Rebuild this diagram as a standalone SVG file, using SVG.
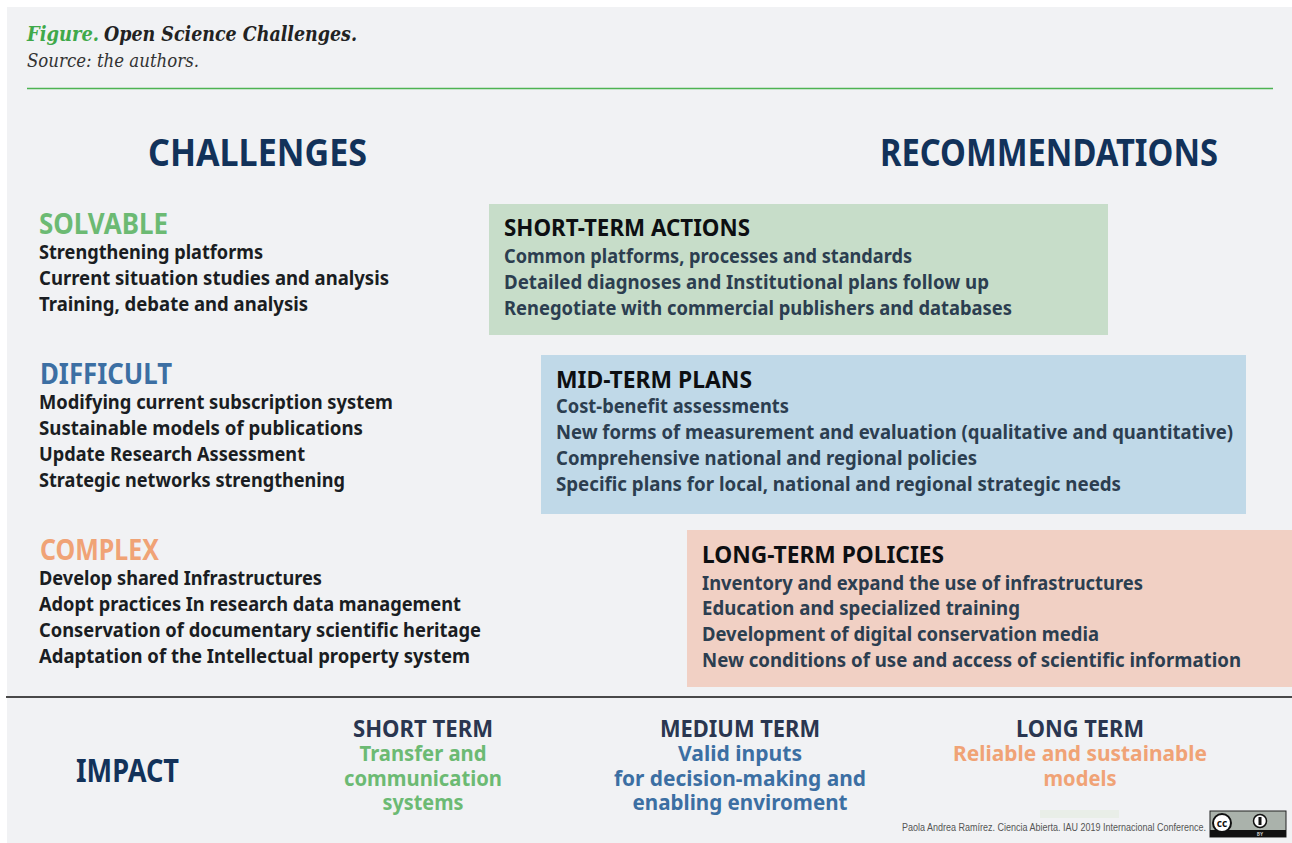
<svg xmlns="http://www.w3.org/2000/svg" width="1292" height="843" viewBox="0 0 1292 843">
<style>
text{font-family:"Noto Sans","Open Sans",sans-serif;font-weight:700}
.h{font-size:38px;fill:#12325a}
.c{font-size:28px}
.b{font-size:20px;fill:#1a1d22}
.s{font-size:20px;fill:#2c3e50}
.t{font-size:24px;fill:#0d0f12}
.m{text-anchor:middle}
.i{font-size:24px;fill:#2a3650}
.j{font-size:22px}
.g{fill:#6cba73}.bl{fill:#3c6fa3}.o{fill:#f0a376}
.f{font-family:"DejaVu Serif",serif;font-style:italic}
</style>
<rect x="0" y="0" width="1292" height="843" fill="#fff"/>
<rect x="7" y="7" width="1285" height="836" fill="#f1f2f4"/>
<g id="caption">
<text class="f" x="27" y="41" font-size="20" fill="#3fa94a" textLength="72" lengthAdjust="spacingAndGlyphs">Figure.</text>
<text class="f" x="104" y="41" font-size="20" fill="#222" textLength="253" lengthAdjust="spacingAndGlyphs">Open Science Challenges.</text>
<text class="f" x="27" y="67" font-size="18" fill="#333" style="font-weight:400" textLength="172" lengthAdjust="spacingAndGlyphs">Source: the authors.</text>
<line x1="27" y1="88.5" x2="1273" y2="88.5" stroke="#4db352" stroke-width="1.3"/>
</g>
<g id="headers">
<text class="h" x="148" y="166" textLength="219" lengthAdjust="spacingAndGlyphs">CHALLENGES</text>
<text class="h" x="880" y="166" textLength="338" lengthAdjust="spacingAndGlyphs">RECOMMENDATIONS</text>
</g>
<g id="solvable">
<text class="c g" x="39" y="234" textLength="129" lengthAdjust="spacingAndGlyphs">SOLVABLE</text>
<text class="b" x="39" y="259" textLength="224" lengthAdjust="spacingAndGlyphs">Strengthening platforms</text>
<text class="b" x="39" y="285" textLength="350" lengthAdjust="spacingAndGlyphs">Current situation studies and analysis</text>
<text class="b" x="39" y="311" textLength="269" lengthAdjust="spacingAndGlyphs">Training, debate and analysis</text>
</g>
<g id="difficult">
<text class="c bl" x="40" y="384" textLength="132" lengthAdjust="spacingAndGlyphs">DIFFICULT</text>
<text class="b" x="39" y="409" textLength="354" lengthAdjust="spacingAndGlyphs">Modifying current subscription system</text>
<text class="b" x="39" y="435" textLength="324" lengthAdjust="spacingAndGlyphs">Sustainable models of publications</text>
<text class="b" x="39" y="461" textLength="266" lengthAdjust="spacingAndGlyphs">Update Research Assessment</text>
<text class="b" x="39" y="487" textLength="306" lengthAdjust="spacingAndGlyphs">Strategic networks strengthening</text>
</g>
<g id="complex">
<text class="c o" x="40" y="560" textLength="119" lengthAdjust="spacingAndGlyphs">COMPLEX</text>
<text class="b" x="39" y="585" textLength="283" lengthAdjust="spacingAndGlyphs">Develop shared Infrastructures</text>
<text class="b" x="39" y="611" textLength="422" lengthAdjust="spacingAndGlyphs">Adopt practices In research data management</text>
<text class="b" x="39" y="637" textLength="442" lengthAdjust="spacingAndGlyphs">Conservation of documentary scientific heritage</text>
<text class="b" x="39" y="663" textLength="431" lengthAdjust="spacingAndGlyphs">Adaptation of the Intellectual property system</text>
</g>
<g id="short-term-actions">
<rect x="489" y="204" width="619" height="131" fill="#c7ddc9"/>
<text class="t" x="504" y="236" textLength="246" lengthAdjust="spacingAndGlyphs">SHORT-TERM ACTIONS</text>
<text class="s" x="504" y="263" textLength="408" lengthAdjust="spacingAndGlyphs">Common platforms, processes and standards</text>
<text class="s" x="504" y="289" textLength="485" lengthAdjust="spacingAndGlyphs">Detailed diagnoses and Institutional plans follow up</text>
<text class="s" x="504" y="315" textLength="508" lengthAdjust="spacingAndGlyphs">Renegotiate with commercial publishers and databases</text>
</g>
<g id="mid-term-plans">
<rect x="541" y="355" width="705" height="159" fill="#c0d9e8"/>
<text class="t" x="556" y="388" textLength="196" lengthAdjust="spacingAndGlyphs">MID-TERM PLANS</text>
<text class="s" x="556" y="413" textLength="233" lengthAdjust="spacingAndGlyphs">Cost-benefit assessments</text>
<text class="s" x="556" y="439" textLength="677" lengthAdjust="spacingAndGlyphs">New forms of measurement and evaluation (qualitative and quantitative)</text>
<text class="s" x="556" y="465" textLength="421" lengthAdjust="spacingAndGlyphs">Comprehensive national and regional policies</text>
<text class="s" x="556" y="491" textLength="565" lengthAdjust="spacingAndGlyphs">Specific plans for local, national and regional strategic needs</text>
</g>
<g id="long-term-policies">
<rect x="687" y="530" width="605" height="157" fill="#f1d0c4"/>
<text class="t" x="702" y="563" textLength="242" lengthAdjust="spacingAndGlyphs">LONG-TERM POLICIES</text>
<text class="s" x="702" y="590" textLength="441" lengthAdjust="spacingAndGlyphs">Inventory and expand the use of infrastructures</text>
<text class="s" x="702" y="615" textLength="318" lengthAdjust="spacingAndGlyphs">Education and specialized training</text>
<text class="s" x="702" y="641" textLength="397" lengthAdjust="spacingAndGlyphs">Development of digital conservation media</text>
<text class="s" x="702" y="667" textLength="539" lengthAdjust="spacingAndGlyphs">New conditions of use and access of scientific information</text>
</g>
<line x1="6" y1="697" x2="1292" y2="697" stroke="#111" stroke-width="1.5"/>
<g id="impact">
<text x="76" y="782" font-size="32" fill="#12325a" textLength="103" lengthAdjust="spacingAndGlyphs">IMPACT</text>
</g>
<g id="short-term">
<text class="i m" x="423" y="737" textLength="140" lengthAdjust="spacingAndGlyphs">SHORT TERM</text>
<text class="j m g" x="423" y="761" textLength="127" lengthAdjust="spacingAndGlyphs">Transfer and</text>
<text class="j m g" x="423" y="786" textLength="158" lengthAdjust="spacingAndGlyphs">communication</text>
<text class="j m g" x="423" y="810" textLength="81" lengthAdjust="spacingAndGlyphs">systems</text>
</g>
<g id="medium-term">
<text class="i m" x="740" y="737" textLength="160" lengthAdjust="spacingAndGlyphs">MEDIUM TERM</text>
<text class="j m bl" x="740" y="761" textLength="124" lengthAdjust="spacingAndGlyphs">Valid inputs</text>
<text class="j m bl" x="740" y="786" textLength="252" lengthAdjust="spacingAndGlyphs">for decision-making and</text>
<text class="j m bl" x="740" y="810" textLength="215" lengthAdjust="spacingAndGlyphs">enabling enviroment</text>
</g>
<g id="long-term">
<text class="i m" x="1080" y="737" textLength="128" lengthAdjust="spacingAndGlyphs">LONG TERM</text>
<text class="j m o" x="1080" y="761" textLength="254" lengthAdjust="spacingAndGlyphs">Reliable and sustainable</text>
<text class="j m o" x="1080" y="786" textLength="73" lengthAdjust="spacingAndGlyphs">models</text>
</g>
<g id="credit">
<rect x="1040" y="810" width="79" height="8" fill="#e9eee8"/>
<text x="902" y="831" font-size="11" fill="#555" style="font-family:'Liberation Sans',sans-serif;font-weight:400" textLength="304" lengthAdjust="spacingAndGlyphs">Paola Andrea Ramírez. Ciencia Abierta. IAU 2019 Internacional Conference.</text>
<rect x="1210" y="811" width="76" height="26" fill="#aab2ab" stroke="#222"/>
<rect x="1210" y="830" width="76" height="7" fill="#111"/>
<circle cx="1222" cy="823" r="9" fill="#fff" stroke="#111" stroke-width="2"/>
<text x="1222" y="826.5" font-size="10" text-anchor="middle" fill="#111">cc</text>
<circle cx="1260" cy="821" r="6.5" fill="#fff" stroke="#111" stroke-width="1.5"/>
<rect x="1258.5" y="817" width="3" height="8" fill="#111"/>
<text x="1260" y="836" font-size="5" text-anchor="middle" fill="#bbb">BY</text>
</g>
</svg>
